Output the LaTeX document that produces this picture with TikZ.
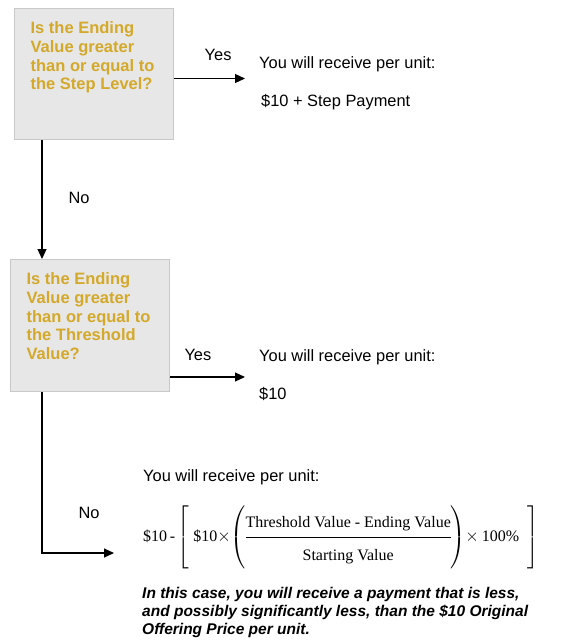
\documentclass[tikz,border=0pt]{standalone}
\usepackage{amsmath}
\usepackage{fontspec}
\setmainfont{Liberation Sans}
\newfontfamily\formfont{Liberation Serif}
\usepackage{tikz}
\usetikzlibrary{positioning, arrows.meta, calc}
\usepackage{xcolor}
\definecolor{qgold}{RGB}{212,168,40}
\definecolor{qfill}{RGB}{231,231,231}
\definecolor{qline}{RGB}{200,200,200}
\tikzset{
  qbox/.style={draw=qline, fill=qfill, line width=1.2pt, anchor=north west,
    inner xsep=16pt, inner ysep=13pt, text=qgold,
    font=\bfseries\fontsize{16.5}{18.8}\selectfont},
  flow/.style={-{Triangle[length=10pt,width=9pt]}, line width=1.1pt},
  plain/.style={inner sep=0pt, anchor=base west, font=\fontsize{16.4}{19}\selectfont},
  flowlabel/.style={inner sep=0pt, font=\fontsize{16.4}{19}\selectfont}
}

\begin{document}
\begin{tikzpicture}[x=1pt, y=-1pt]
\useasboundingbox (0,0) rectangle (561,642);
\node[qbox] (stepq) at (14,8) {\parbox[t][105pt][t]{127pt}{\raggedright Is the Ending\\ Value greater\\ than or equal to\\ the Step Level?}};
\node[qbox] (thresq) at (10,259) {\parbox[t][106pt][t]{127pt}{\raggedright Is the Ending\\ Value greater\\ than or equal to\\ the Threshold\\ Value?}};
\node[plain] (stepres) at (259,68) {You will receive per unit:};
\node[plain] (stepamt) at (261,106) {\$10 + Step Payment};
\node[plain] (thresres) at (259,361) {You will receive per unit:};
\node[plain] (thresamt) at (259,399) {\$10};
\node[plain] (lossintro) at (143,481) {You will receive per unit:};
\node[plain, font=\formfont\fontsize{16}{19}\selectfont] (lossform) at (143,541.7) {\delimitershortfall=0pt\delimiterfactor=1000
  \$10\,-\,$\left[\rule[-24pt]{0pt}{55pt}\right.\text{\$10}{\times}\!\left(\rule[-24pt]{0pt}{55pt}\right.\!\!\dfrac{\rule[-7.5pt]{0pt}{7.5pt}\text{Threshold Value - Ending Value}}{\rule{0pt}{21pt}\text{Starting Value}}\!\!\left.\rule[-24pt]{0pt}{55pt}\right)\!{\times}\,\text{100\%}\hspace{4pt}\left.\rule[-24pt]{0pt}{55pt}\right]$};
\node[inner sep=0pt, anchor=north west, align=left, font=\bfseries\itshape\fontsize{15.5}{18}\selectfont] (losswarn) at (142,587) {In this case, you will receive a payment that is less,\\ and possibly significantly less, than the \$10 Original\\ Offering Price per unit.};
\coordinate (stepyestip) at (245,78.5);
\coordinate (thresyestip) at (245,377);
\coordinate (losstip) at (114,553);
\draw[flow] (stepq.east |- stepyestip) -- (stepyestip) node[flowlabel, pos=0.62, above=17.6pt] (stepyes) {Yes};
\draw[flow] (thresq.east |- thresyestip) -- (thresyestip) node[flowlabel, pos=0.37, above=16.2pt] (thresyes) {Yes};
\draw[flow] ([xshift=28pt]stepq.south west) -- ([xshift=32pt]thresq.north west) node[flowlabel, pos=0.49, right=26pt] (stepno) {No};
\draw[flow] ([xshift=32pt]thresq.south west) |- (losstip) node[flowlabel, pos=0.376, right=36pt] (thresno) {No};
\end{tikzpicture}
\end{document}
